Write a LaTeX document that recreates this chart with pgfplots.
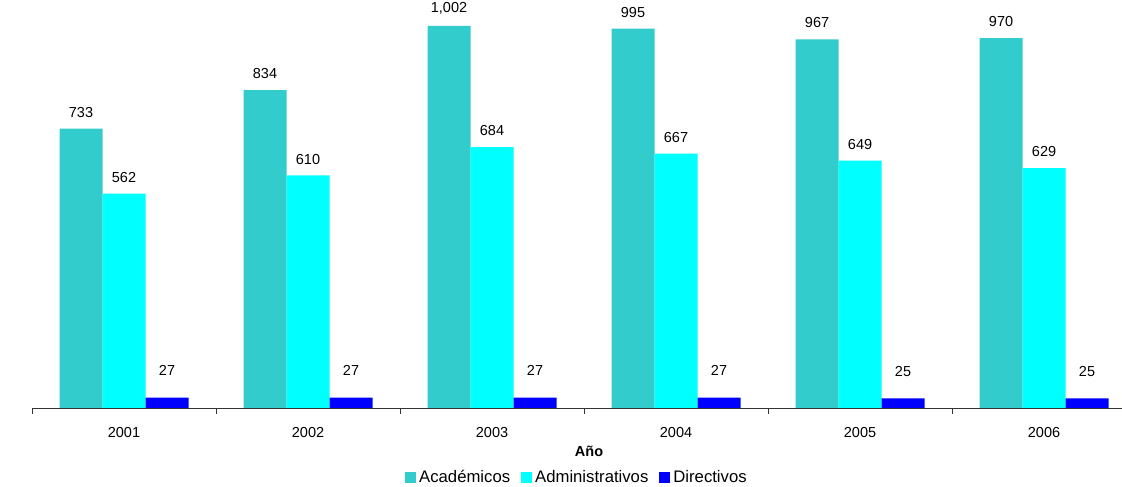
\documentclass[border=0pt]{standalone}
\usepackage{fontspec}
\setmainfont{Liberation Sans}
\usepackage{pgfplots}
\pgfplotsset{compat=1.18}
\definecolor{acad}{HTML}{33CCCC}
\definecolor{admin}{HTML}{00FFFF}
\definecolor{dire}{HTML}{0000FF}
\begin{document}
\begin{tikzpicture}
\useasboundingbox (0,0) rectangle (1122pt,487pt);
\begin{axis}[
  at={(32pt,79pt)}, anchor=south west,
  scale only axis, width=1090pt, height=400.3pt,
  xmin=-0.5, xmax=5.4239, ymin=0, ymax=1050,
  clip=false,
  ybar=0pt, bar width=43pt,
  axis x line=bottom, axis y line=none,
  x axis line style={-, black!80},
  xtick={0,1,2,3,4,5},
  xticklabels={2001,2002,2003,2004,2005,2006},
  major tick length=0pt,
  minor xtick={-0.5,0.5,1.5,2.5,3.5,4.5},
  minor tick length=6pt,
  xtick align=outside,
  minor tick style={black!80},
  ytick=\empty,
  /pgf/number format/.cd, 1000 sep={,}, assume math mode=true, /pgfplots/.cd,
  tick label style={font=\fontsize{14.5}{17}\selectfont},
  xticklabel style={yshift=-16pt},
  xlabel={\textbf{Año}},
  xlabel style={font=\fontsize{14.5}{17}\selectfont, at={(axis description cs:0.5110,-0.1074)}, anchor=center},
  ylabel={\textbf{Personas}},
  ylabel style={font=\fontsize{14.5}{17}\selectfont, at={(axis description cs:-0.0138,0.4825)}, anchor=center, rotate=0},
  nodes near coords,
  every node near coord/.append style={font=\fontsize{14.5}{17}\selectfont, anchor=south, inner sep=0pt, yshift=11pt, text=black},
  legend columns=3,
  legend style={draw=none, at={(axis description cs:0.5004,-0.1724)}, anchor=center,
    font=\fontsize{16.7}{20}\selectfont, inner sep=0pt,
    nodes={inner xsep=3pt, inner ysep=0pt},
    /tikz/every even column/.append style={column sep=8pt}},
  legend image code/.code={\fill[#1] (0pt,-5.5pt) rectangle (11pt,5.5pt);},
]
\addplot[fill=acad, draw=none] coordinates {(0,733) (1,834) (2,1002) (3,995) (4,967) (5,970)};
\addplot[fill=admin, draw=none] coordinates {(0,562) (1,610) (2,684) (3,667) (4,649) (5,629)};
\addplot[fill=dire, draw=none, every node near coord/.append style={yshift=11pt}] coordinates {(0,27) (1,27) (2,27) (3,27) (4,25) (5,25)};
\legend{Académicos, Administrativos, Directivos}
\end{axis}
\end{tikzpicture}
\end{document}
